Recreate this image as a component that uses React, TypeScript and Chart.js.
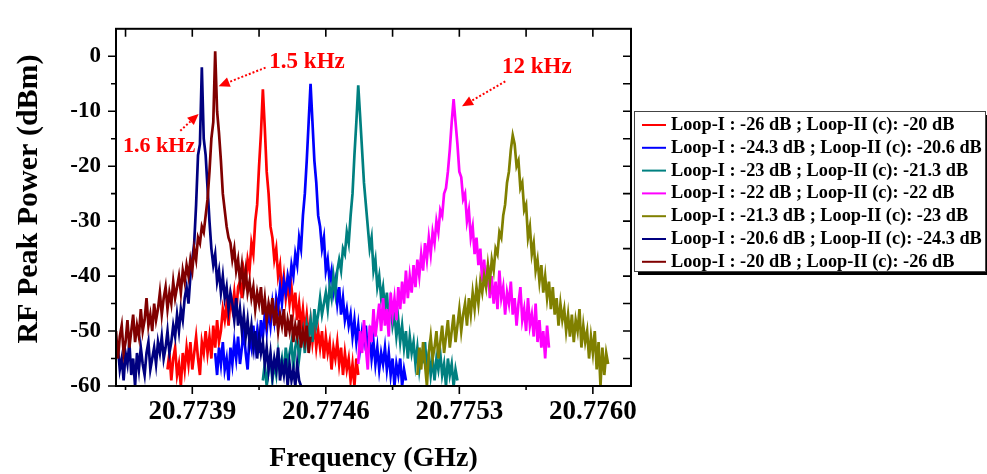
import React, { useEffect, useRef } from "react";
import { Chart, registerables } from "chart.js";

Chart.register(...registerables);

// ---------- axes ----------
const X_MIN = 20.7735;
const X_MAX = 20.7762;
const Y_MIN = -60;
const Y_MAX = 5;
const xMajorTicks = [20.7739, 20.7746, 20.7753, 20.776];
const xMinorTicks = [20.77355, 20.77425, 20.77495, 20.77565];
const yMajorTicks = [0, -10, -20, -30, -40, -50, -60];
const yMinorTicks = [-5, -15, -25, -35, -45, -55];
const xTitle = "Frequency (GHz)";
const yTitle = "RF Peak Power (dBm)";

// ---------- series (sampled every FREQ_STEP GHz from each start frequency) ----------
const FREQ_STEP = 0.00001;

const seriesLabels = [
  "Loop-I : -26 dB ; Loop-II (c): -20 dB",
  "Loop-I : -24.3 dB ; Loop-II (c): -20.6 dB",
  "Loop-I : -23 dB ; Loop-II (c): -21.3 dB",
  "Loop-I : -22 dB ; Loop-II (c): -22 dB",
  "Loop-I : -21.3 dB ; Loop-II (c): -23 dB",
  "Loop-I : -20.6 dB ; Loop-II (c): -24.3 dB",
  "Loop-I : -20 dB ; Loop-II (c): -26 dB",
];
const seriesColors = ["#ff0000", "#0000ff", "#008080", "#ff00ff", "#808000", "#000080", "#800000"];
const seriesStart = [20.77377, 20.77402, 20.77427, 20.77477, 20.77508, 20.77351, 20.7735];

const redPower = [
  -57, -54, -59, -55, -53, -58, -56, -60, -54, -57,
  -53, -56, -52, -57, -54, -51, -55, -58, -52, -54,
  -50, -54, -51, -55, -49, -53, -48, -52, -50, -46,
  -48, -45, -49, -44, -46, -43, -47, -42, -41, -44,
  -39, -41, -37, -39, -34, -36, -30, -27, -20, -14,
  -6,
  -13, -21, -25, -31, -33, -37, -35, -40, -38,
  -43, -40, -44, -41, -45, -42, -46, -43, -48, -45,
  -49, -46, -50, -47, -51, -48, -52, -49, -53, -50,
  -53, -50, -55, -51, -54, -52, -57, -53, -55, -52,
  -56, -53, -58, -54, -57, -55, -59, -56, -60, -55, -58,
];
const bluePower = [
  -54, -58, -53, -56, -52, -57, -55, -59, -53, -56,
  -52, -55, -51, -56, -53, -50, -54, -57, -51, -53,
  -49, -53, -50, -54, -48, -51, -47, -50, -46, -49,
  -45, -48, -44, -46, -42, -45, -41, -43, -40, -42,
  -38, -40, -36, -38, -33, -35, -29, -25, -19, -12,
  -5,
  -12, -19, -23, -29, -31, -35, -33, -39, -37,
  -41, -39, -43, -41, -45, -42, -47, -44, -48, -46,
  -49, -47, -51, -48, -52, -49, -53, -50, -52, -49,
  -54, -51, -55, -52, -56, -53, -57, -54, -56, -53,
  -57, -54, -58, -55, -60, -56, -58, -55, -60, -57, -59,
];
const tealPower = [
  -59, -56, -60, -57, -55, -59, -56, -58, -54, -57,
  -55, -58, -53, -56, -54, -52, -57, -53, -51, -55,
  -52, -50, -54, -49, -51, -48, -52, -46, -49, -47,
  -44, -47, -45, -43, -46, -42, -44, -40, -43, -39,
  -37, -39, -35, -36, -32, -34, -29, -25, -18, -12,
  -5.3,
  -11, -17, -23, -27, -31, -35, -33, -39, -37,
  -42, -40, -44, -42, -46, -43, -48, -45, -49, -47,
  -51, -48, -52, -49, -53, -50, -55, -51, -54, -52,
  -56, -53, -57, -54, -55, -52, -57, -54, -58, -55,
  -59, -55, -57, -54, -58, -56, -60, -55, -58, -56,
  -60, -57, -59,
];
const magentaPower = [
  -56, -50, -54, -48, -53, -57, -49, -52, -46, -51,
  -48, -45, -50, -44, -49, -46, -51, -43, -47, -44,
  -48, -42, -46, -41, -45, -39, -44, -40, -43, -38,
  -42, -37, -40, -36, -39, -34, -37, -33, -36, -32,
  -34, -30, -32, -28, -29, -25, -24, -21, -17, -12,
  -7.8,
  -12, -16, -21, -22, -26, -25, -30, -28, -33,
  -31, -36, -33, -38, -35, -41, -37, -42, -38, -44,
  -40, -45, -41, -46, -39, -44, -42, -47, -43, -45,
  -41, -47, -44, -49, -45, -42, -48, -46, -50, -44,
  -49, -47, -51, -45, -52, -48, -53, -50, -55, -49, -53,
];
const olivePower = [
  -58, -53, -57, -52, -56, -60, -54, -51, -55, -53,
  -50, -55, -52, -49, -54, -51, -48, -53, -50, -47,
  -52, -49, -46, -50, -47, -45, -49, -44, -47, -43,
  -46, -42, -45, -41, -43, -40, -42, -38, -41, -37,
  -39, -35, -36, -32, -33, -29, -27, -23, -21, -17,
  -14.4,
  -16, -20, -19, -24, -23, -28, -27, -33, -31,
  -36, -34, -39, -37, -41, -38, -43, -40, -44, -41,
  -46, -42, -47, -44, -49, -45, -48, -46, -50, -47,
  -51, -47, -52, -48, -50, -46, -53, -49, -52, -50,
  -55, -51, -54, -50, -57, -52, -60, -53, -58, -54, -56,
];
const navyPower = [
  -53, -57, -55, -59, -54, -56, -52, -58, -55, -60,
  -54, -57, -53, -56, -58, -54, -52, -57, -55, -53,
  -56, -52, -54, -51, -55, -53, -50, -54, -52, -49,
  -51, -47, -50, -46, -48, -44, -42, -45, -40, -37,
  -34, -27, -18, -16,
  -2,
  -15, -18, -24, -30, -35,
  -38, -36, -41, -39, -43, -40, -44, -42, -46, -43,
  -45, -48, -44, -49, -46, -50, -47, -51, -48, -52,
  -49, -53, -50, -55, -51, -54, -52, -56, -53, -57,
  -54, -58, -55, -57, -53, -59, -56, -58, -55, -60,
  -56, -59, -57, -60, -56, -59, -60,
];
const maroonPower = [
  -50, -55, -51, -49, -54, -52, -48, -53, -50, -47,
  -52, -49, -51, -46, -50, -48, -44, -49, -47, -50,
  -45, -48, -46, -43, -47, -44, -42, -46, -43, -45,
  -41, -44, -42, -40, -43, -39, -41, -38, -40, -37,
  -39, -35, -37, -33, -34, -31, -32, -29, -26, -21,
  -15, -12,
  0.9,
  -10, -14, -19, -25, -28, -31, -33,
  -34, -37, -35, -39, -37, -41, -38, -42, -39, -43,
  -41, -44, -42, -46, -43, -45, -42, -47, -44, -48,
  -45, -47, -44, -49, -46, -50, -47, -49, -46, -51,
  -48, -50, -47, -52, -49, -51, -48, -53, -50, -52,
  -49, -54, -51,
];
const seriesPower = [redPower, bluePower, tealPower, magentaPower, olivePower, navyPower, maroonPower];

// ---------- annotations (data units) ----------
const annotationTexts = ["1.5 kHz", "1.6 kHz", "12 kHz"];
const annotationTextX = [20.774304, 20.773537, 20.775524];
const annotationTextY = [-2.06, -17.5, -3.09];
const annotationFontSize = [23, 22, 23];
const arrowFromX = [20.774284, 20.773837, 20.775541];
const arrowFromY = [-2.06, -13.55, -4.58];
const arrowToX = [20.774038, 20.773933, 20.775314];
const arrowToY = [-5.44, -10.5, -9.09];

const FONT = '"Liberation Serif", "Times New Roman", "DejaVu Serif", serif';

const decorPlugin = {
  id: "decor",
  afterDraw(chart: any) {
    const ctx: CanvasRenderingContext2D = chart.ctx;
    const area = chart.chartArea;
    const xs = chart.scales.x;
    const ys = chart.scales.y;
    ctx.save();

    // frame
    ctx.strokeStyle = "#000";
    ctx.lineWidth = 2;
    ctx.strokeRect(area.left, area.top, area.right - area.left, area.bottom - area.top);

    // ticks
    ctx.lineWidth = 1.6;
    ctx.beginPath();
    xMajorTicks.forEach((v) => {
      const px = xs.getPixelForValue(v);
      ctx.moveTo(px, area.bottom);
      ctx.lineTo(px, area.bottom + 8);
      ctx.moveTo(px, area.top);
      ctx.lineTo(px, area.top + 8);
    });
    xMinorTicks.forEach((v) => {
      const px = xs.getPixelForValue(v);
      ctx.moveTo(px, area.bottom);
      ctx.lineTo(px, area.bottom + 4);
      ctx.moveTo(px, area.top);
      ctx.lineTo(px, area.top + 8);
    });
    yMajorTicks.forEach((v) => {
      const py = ys.getPixelForValue(v);
      ctx.moveTo(area.left - 8, py);
      ctx.lineTo(area.left, py);
      ctx.moveTo(area.right, py);
      ctx.lineTo(area.right - 8, py);
    });
    yMinorTicks.forEach((v) => {
      const py = ys.getPixelForValue(v);
      ctx.moveTo(area.left - 5, py);
      ctx.lineTo(area.left, py);
      ctx.moveTo(area.right, py);
      ctx.lineTo(area.right - 8, py);
    });
    ctx.stroke();

    // axis titles
    ctx.fillStyle = "#000";
    ctx.font = `bold 28px ${FONT}`;
    ctx.textAlign = "center";
    ctx.textBaseline = "alphabetic";
    ctx.fillText(xTitle, (area.left + area.right) / 2, 465.5);
    ctx.save();
    ctx.translate(36.5, 199);
    ctx.rotate(-Math.PI / 2);
    ctx.font = `bold 30px ${FONT}`;
    ctx.fillText(yTitle, 0, 0);
    ctx.restore();

    // annotations
    ctx.fillStyle = "#ff0000";
    ctx.strokeStyle = "#ff0000";
    annotationTexts.forEach((t, i) => {
      ctx.font = `bold ${annotationFontSize[i]}px ${FONT}`;
      ctx.textAlign = "left";
      ctx.textBaseline = "alphabetic";
      ctx.fillText(t, xs.getPixelForValue(annotationTextX[i]), ys.getPixelForValue(annotationTextY[i]));
      const x1 = xs.getPixelForValue(arrowFromX[i]);
      const y1 = ys.getPixelForValue(arrowFromY[i]);
      const x2 = xs.getPixelForValue(arrowToX[i]);
      const y2 = ys.getPixelForValue(arrowToY[i]);
      const ang = Math.atan2(y2 - y1, x2 - x1);
      const head = 11;
      const bx = x2 - head * Math.cos(ang);
      const by = y2 - head * Math.sin(ang);
      ctx.lineWidth = 2;
      ctx.setLineDash([2, 2]);
      ctx.beginPath();
      ctx.moveTo(x1, y1);
      ctx.lineTo(bx, by);
      ctx.stroke();
      ctx.setLineDash([]);
      ctx.beginPath();
      ctx.moveTo(x2, y2);
      ctx.lineTo(bx + 5 * Math.sin(ang), by - 5 * Math.cos(ang));
      ctx.lineTo(bx - 5 * Math.sin(ang), by + 5 * Math.cos(ang));
      ctx.closePath();
      ctx.fill();
    });

    // legend
    const lx = 634, ly = 111, lw = 351, lh = 160;
    ctx.fillStyle = "#000";
    ctx.fillRect(lx + 4, ly + 4, lw, lh);
    ctx.fillStyle = "#fff";
    ctx.fillRect(lx, ly, lw, lh);
    ctx.strokeStyle = "#444";
    ctx.lineWidth = 1;
    ctx.strokeRect(lx + 0.5, ly + 0.5, lw, lh);
    ctx.font = `bold 18.3px ${FONT}`;
    ctx.textAlign = "left";
    ctx.textBaseline = "alphabetic";
    seriesLabels.forEach((lab, i) => {
      const base = 130 + i * 22.8;
      ctx.strokeStyle = seriesColors[i];
      ctx.lineWidth = 2;
      ctx.beginPath();
      ctx.moveTo(642, base - 5);
      ctx.lineTo(666, base - 5);
      ctx.stroke();
      ctx.fillStyle = "#000";
      ctx.fillText(lab, 671, base);
    });

    ctx.restore();
  },
};

export default function App() {
  const canvasRef = useRef<HTMLCanvasElement | null>(null);

  useEffect(() => {
    if (!canvasRef.current) return;
    const datasets = seriesPower.map((vals, s) => ({
      label: seriesLabels[s],
      data: vals.map((y, i) => ({ x: seriesStart[s] + i * FREQ_STEP, y })),
      borderColor: seriesColors[s],
      backgroundColor: seriesColors[s],
      borderWidth: 2.7,
      borderJoinStyle: "miter",
      pointRadius: 0,
      tension: 0,
      fill: false,
      order: seriesPower.length - s,
    }));

    const chart = new Chart(canvasRef.current, {
      type: "line",
      data: { datasets },
      options: {
        animation: false,
        responsive: false,
        maintainAspectRatio: false,
        layout: { padding: { left: 0, right: 356, top: 7, bottom: 0 } },
        plugins: { legend: { display: false }, tooltip: { enabled: false } },
        scales: {
          x: {
            type: "linear",
            min: X_MIN,
            max: X_MAX,
            grid: { display: false, drawTicks: false },
            border: { display: false },
            afterBuildTicks: (axis: any) => {
              axis.ticks = xMajorTicks.map((v) => ({ value: v }));
            },
            afterFit: (axis: any) => {
              axis.height = 88;
            },
            ticks: {
              autoSkip: false,
              maxRotation: 0,
              padding: 10,
              color: "#000",
              font: { family: FONT, size: 27, weight: "bold" },
              callback: (v: any) => Number(v).toFixed(4),
            },
          },
          y: {
            type: "linear",
            min: Y_MIN,
            max: Y_MAX,
            grid: { display: false, drawTicks: false },
            border: { display: false },
            afterBuildTicks: (axis: any) => {
              axis.ticks = yMajorTicks.map((v) => ({ value: v }));
            },
            afterFit: (axis: any) => {
              axis.width = 116;
            },
            ticks: {
              autoSkip: false,
              padding: 15,
              color: "#000",
              font: { family: FONT, size: 23, weight: "bold" },
              callback: (v: any) => String(v),
            },
          },
        },
      },
      plugins: [decorPlugin],
    } as any);
    return () => chart.destroy();
  }, []);

  return (
    <div style={{ position: "fixed", left: 0, top: 0, width: 987, height: 474, background: "#fff" }}>
      <canvas ref={canvasRef} width={987} height={474} />
    </div>
  );
}
